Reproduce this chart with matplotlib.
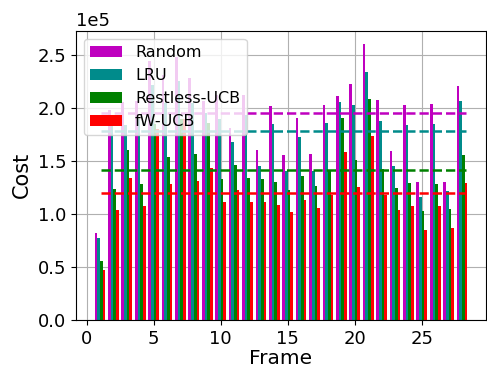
import numpy as np
import matplotlib
matplotlib.use("Agg")
import matplotlib.pyplot as plt

# cost per frame, in units of 1e5
frames = np.arange(1, 29)
random_cost = [0.82, 1.98, 2.06, 2.07, 2.44, 2.31, 2.48, 2.28, 2.07, 2.12,
               1.81, 2.12, 1.60, 2.02, 1.56, 1.91, 1.57, 2.03, 2.11, 2.23,
               2.60, 2.08, 1.59, 2.03, 1.30, 2.04, 1.30, 2.21]
lru_cost = [0.77, 1.88, 1.84, 1.90, 2.22, 2.05, 2.25, 2.05, 1.95, 1.90,
            1.675, 1.93, 1.45, 1.85, 1.41, 1.73, 1.41, 1.86, 2.06, 2.03,
            2.34, 1.88, 1.45, 1.84, 1.16, 1.85, 1.22, 2.07]
restless_cost = [0.555, 1.24, 1.60, 1.28, 1.85, 1.54, 1.90, 1.57, 1.86, 1.33,
                 1.466, 1.34, 1.327, 1.30, 1.223, 1.356, 1.264, 1.41, 1.905, 1.507,
                 2.084, 1.422, 1.242, 1.29, 1.025, 1.28, 1.044, 1.554]
fwucb_cost = [0.47, 1.04, 1.337, 1.072, 1.80, 1.28, 1.90, 1.31, 1.43, 1.11,
              1.223, 1.11, 1.11, 1.081, 1.015, 1.129, 1.053, 1.176, 1.583, 1.252,
              1.734, 1.176, 1.034, 1.072, 0.854, 1.072, 0.873, 1.29]

labels = ['Random', 'LRU', 'Restless-UCB', 'fW-UCB']
colors = ['m', 'darkcyan', 'g', 'r']
series = [random_cost, lru_cost, restless_cost, fwucb_cost]

fig, ax = plt.subplots(figsize=(4.87, 3.68), dpi=100)
ax.set_axisbelow(True)
ax.grid(True)

width = 0.2
offsets = [-0.3, -0.1, 0.1, 0.3]
for vals, lab, col, off in zip(series, labels, colors, offsets):
    ax.bar(frames + off, np.array(vals) * 1e5, width=width, color=col, label=lab)

# mean cost of each policy as dashed line
for vals, col in zip(series, colors):
    ax.hlines(np.mean(vals) * 1e5, 1.1, 28.3, colors=col, linestyles='--', linewidth=1.8)

ax.ticklabel_format(axis='y', style='sci', scilimits=(0, 0))
ax.set_xlabel('Frame', fontsize=14.5, labelpad=1)
ax.set_ylabel('Cost', fontsize=15)
ax.tick_params(labelsize=13)
ax.yaxis.get_offset_text().set_fontsize(13)
ax.legend(loc='upper left', fontsize=11.5)

plt.subplots_adjust(left=0.156, right=0.998, top=0.917, bottom=0.13)
plt.savefig('out.png', dpi=100)
